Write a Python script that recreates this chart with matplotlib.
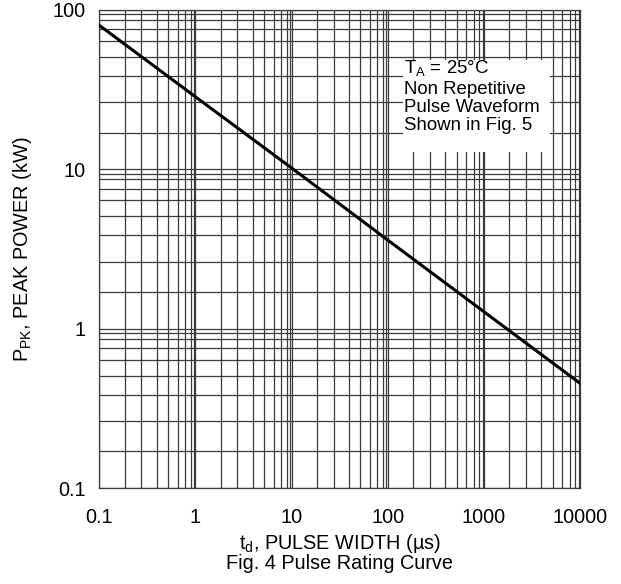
import numpy as np
import matplotlib
matplotlib.use('Agg')
import matplotlib.pyplot as plt
from matplotlib.patches import Rectangle

plt.rcParams['font.family'] = ['Liberation Sans', 'DejaVu Sans']
plt.rcParams['mathtext.fontset'] = 'custom'
plt.rcParams['mathtext.rm'] = 'Liberation Sans'

# curve
pulse_width = [0.1, 1, 10, 100, 1000, 10000]
peak_power = [80, 28.5, 10.2, 3.6, 1.28, 0.455]

x_ticks = [0.1, 1, 10, 100, 1000, 10000]
x_labels = ['0.1', '1', '10', '100', '1000', '10000']
y_ticks = [0.1, 1, 10, 100]
y_labels = ['0.1', '1', '10', '100']

# the graph paper has its own minor line spacing (multiples within a decade)
x_minor_mult = [1.83, 2.73, 3.95, 5.2, 6.5, 7.8, 8.9, 9.7]
y_minor_mult = [1.70, 2.63, 3.87, 5.08, 6.4, 7.55, 8.66, 9.37]

note = 'T$_\\mathregular{A}$ = 25°C\nNon Repetitive\nPulse Waveform\nShown in Fig. 5'

fig = plt.figure(figsize=(6.21, 5.84), dpi=100)
ax = fig.add_axes([0.16, 0.164, 0.774, 0.819])

ax.plot(pulse_width, peak_power, color='black', lw=2.2, zorder=5)
ax.set_xscale('log')
ax.set_yscale('log')
ax.set_xlim(0.1, 10000)
ax.set_ylim(0.1, 100)

ax.set_xticks(x_ticks)
ax.set_xticklabels(x_labels)
ax.set_yticks(y_ticks)
ax.set_yticklabels(y_labels)
xm = [d * m for d in x_ticks[:-1] for m in x_minor_mult]
ym = [d * m for d in y_ticks[:-1] for m in y_minor_mult]
ax.set_xticks(xm, minor=True)
ax.set_yticks(ym, minor=True)
ax.tick_params(which='both', length=0, labelsize=14.3)
ax.tick_params(axis='x', pad=14)
ax.tick_params(axis='y', pad=10)

ax.grid(True, which='both', color='#3a3a3a', lw=0.9)
for s in ax.spines.values():
    s.set_color('#3a3a3a')
    s.set_linewidth(0.9)

# white box behind the note
ax.add_patch(Rectangle((0.632, 0.703), 0.306, 0.192, transform=ax.transAxes,
                       facecolor='white', edgecolor='none', zorder=3))
ax.text(0.634, 0.897, note, transform=ax.transAxes, fontsize=13.4,
        va='top', ha='left', linespacing=1.08, zorder=4)

ax.set_xlabel('t$_\\mathregular{d}$, PULSE WIDTH (µs)\nFig. 4 Pulse Rating Curve',
              fontsize=14.3, linespacing=0.95, labelpad=4)
ax.set_ylabel('P$_\\mathregular{PK}$, PEAK POWER (kW)', fontsize=14.3, labelpad=13)

fig.savefig('out.png', dpi=100)
